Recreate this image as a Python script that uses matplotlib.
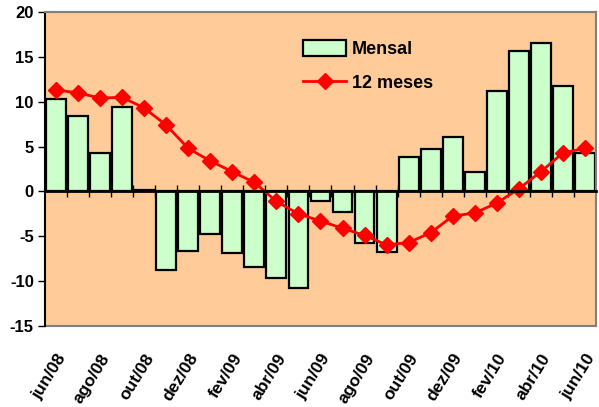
import matplotlib
matplotlib.use("Agg")
import matplotlib.pyplot as plt
import numpy as np

plt.rcParams["font.family"] = ["Liberation Sans", "DejaVu Sans"]
plt.rcParams["font.weight"] = "bold"
plt.rcParams["axes.unicode_minus"] = False

# monthly data, jun/08 .. jun/10
months = ["jun/08", "jul/08", "ago/08", "set/08", "out/08", "nov/08", "dez/08",
          "jan/09", "fev/09", "mar/09", "abr/09", "mai/09", "jun/09", "jul/09",
          "ago/09", "set/09", "out/09", "nov/09", "dez/09", "jan/10", "fev/10",
          "mar/10", "abr/10", "mai/10", "jun/10"]
mensal = [10.3, 8.4, 4.3, 9.4, 0.2, -8.8, -6.6, -4.7, -6.9, -8.4, -9.7, -10.8,
          -1.1, -2.3, -5.8, -6.7, 3.8, 4.75, 6.05, 2.15, 11.15, 15.6, 16.6,
          11.8, 4.3]
doze_meses = [11.3, 11.0, 10.4, 10.5, 9.3, 7.4, 4.8, 3.4, 2.2, 1.0, -1.1, -2.5,
              -3.3, -4.1, -4.9, -5.95, -5.7, -4.6, -2.75, -2.4, -1.3, 0.3, 2.2,
              4.3, 4.8]

x = np.arange(len(months))

fig = plt.figure(figsize=(5.99, 4.07), dpi=100)
ax = fig.add_axes([0.075, 0.199, 0.92, 0.7715])
ax.set_facecolor("#FFCC99")

bars = ax.bar(x, mensal, width=0.9, color="#CCFFCC", edgecolor="black",
              linewidth=1.6, label="Mensal", zorder=2)
line, = ax.plot(x, doze_meses, color="#FF0000", lw=2, marker="D",
                markersize=8, label="12 meses", zorder=3)

ax.set_xlim(-0.5, len(months) - 0.5)
ax.set_ylim(-15, 20)
ax.set_yticks(np.arange(-15, 21, 5))
ax.tick_params(axis="y", direction="out", length=5, width=1, labelsize=12,
               pad=3)

for s in ("top", "right"):
    ax.spines[s].set_color("#808080")
    ax.spines[s].set_linewidth(1.5)
ax.spines["left"].set_linewidth(1.5)

# category axis drawn along y = 0
ax.spines["bottom"].set_position(("data", 0))
ax.spines["bottom"].set_linewidth(2)
ax.spines["bottom"].set_zorder(4)
ax.set_xticks(x[:-1] + 0.5)
ax.set_xticklabels([])
ax.tick_params(axis="x", direction="inout", length=8, width=1)

sec = ax.secondary_xaxis("bottom")
sec.spines["bottom"].set_color("#808080")
sec.spines["bottom"].set_linewidth(1.5)
sec.set_xticks(x[::2])
sec.set_xticklabels(months[::2], rotation=58, ha="right",
                    rotation_mode="anchor", fontsize=12.5, fontweight="bold")
sec.tick_params(axis="x", length=0, pad=18)

ax.legend([bars, line], ["Mensal", "12 meses"], loc="upper left",
          bbox_to_anchor=(0.455, 0.935), frameon=False, fontsize=13,
          handlelength=2.4, handleheight=1.0, labelspacing=0.9,
          handletextpad=0.3, borderaxespad=0)

fig.savefig("out.png", dpi=100)
